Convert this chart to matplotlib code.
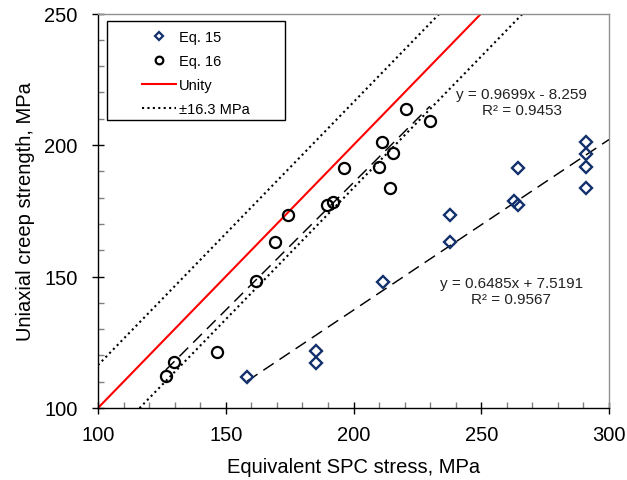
import matplotlib
matplotlib.use("Agg")
import matplotlib.pyplot as plt
from matplotlib.lines import Line2D
from matplotlib.patches import Rectangle
from matplotlib.ticker import MultipleLocator
import numpy as np

plt.rcParams['font.family'] = ['Liberation Sans', 'DejaVu Sans']

# Eq. 15 predictions (diamonds)
eq15_x = [158.4, 185.2, 185.2, 211.7, 237.9, 237.9, 264.3, 262.8, 264.5, 291.0, 291.0, 291.0, 291.0]
eq15_y = [111.9, 121.6, 117.1, 147.8, 173.4, 163.3, 191.4, 178.6, 177.0, 201.1, 196.7, 191.8, 183.7]

# Eq. 16 predictions (circles)
eq16_x = [126.5, 129.9, 146.4, 161.8, 169.4, 174.5, 189.8, 192.1, 196.4, 210.1, 211.2, 215.3, 214.3, 220.5, 229.9]
eq16_y = [112.1, 117.4, 121.4, 148.1, 163.3, 173.4, 177.2, 178.3, 191.4, 191.7, 201.3, 196.9, 183.8, 213.5, 209.1]

# Linear trendlines: (slope, intercept, R^2)
fit15 = (0.6485, 7.5191, 0.9567)
fit16 = (0.9699, -8.259, 0.9453)

scatter_band = 16.3
x_lim = (100, 300)
y_lim = (100, 250)
x_ticks = [100, 150, 200, 250, 300]
y_ticks = [100, 150, 200, 250]

navy = '#12306c'

fig = plt.figure(figsize=(6.27, 4.81), dpi=100)
ax = fig.add_axes([98 / 627, 1 - 409 / 481, 511 / 627, 394.5 / 481])
ax.set_xlim(*x_lim)
ax.set_ylim(*y_lim)

# unity line and +/- band
ux = np.array(x_lim, dtype=float)
ax.plot(ux, ux, color='#ff0000', lw=1.5, zorder=2)
ax.plot(ux, ux + scatter_band, color='black', lw=1.5, dashes=(1, 1.6), zorder=2)
ax.plot(ux, ux - scatter_band, color='black', lw=1.5, dashes=(1, 1.6), zorder=2)

# trendlines
tx16 = np.array([min(eq16_x), max(eq16_x)])
ax.plot(tx16, fit16[0] * tx16 + fit16[1], color='black', lw=1.05, dashes=(8.5, 4.8), zorder=3)
tx15 = np.array([min(eq15_x), x_lim[1]])
ax.plot(tx15, fit15[0] * tx15 + fit15[1], color='black', lw=1.05, dashes=(8.5, 4.8), zorder=3)

# data points
ax.plot(eq15_x, eq15_y, linestyle='none', marker='D', ms=6.0, mfc='none',
        mec=navy, mew=1.7, zorder=4)
ax.plot(eq16_x, eq16_y, linestyle='none', marker='o', ms=8.0, mfc='none',
        mec='black', mew=1.6, zorder=4)

# trendline equations
ax.text(265.8, 216.4, "y = %.4fx - %.3f\nR² = %.4f" % (fit16[0], -fit16[1], fit16[2]),
        ha='center', va='center', fontsize=11, linespacing=1.2, color='#222222', zorder=5)
ax.text(261.8, 144.5, "y = %.4fx + %.4f\nR² = %.4f" % (fit15[0], fit15[1], fit15[2]),
        ha='center', va='center', fontsize=11, linespacing=1.2, color='#222222', zorder=5)

# axes styling
ax.set_xticks(x_ticks)
ax.set_yticks(y_ticks)
ax.xaxis.set_minor_locator(MultipleLocator(10))
ax.yaxis.set_minor_locator(MultipleLocator(10))
ax.tick_params(which='major', direction='inout', length=9, width=1, color='black',
               labelsize=14.5)
ax.tick_params(axis='x', which='major', pad=8)
ax.tick_params(axis='y', which='major', pad=10)
ax.tick_params(which='minor', direction='in', length=4.5, width=1, color='#808080')
ax.spines['left'].set_color('black')
ax.spines['bottom'].set_color('black')
ax.spines['top'].set_color('#909090')
ax.spines['right'].set_color('#909090')
for s in ax.spines.values():
    s.set_linewidth(1.0)

ax.set_xlabel('Equivalent SPC stress, MPa', fontsize=14.5, labelpad=9)
ax.set_ylabel('Uniaxial creep strength, MPa', fontsize=14.5, labelpad=6.5)

# legend
handles = [
    Line2D([], [], linestyle='none', marker='D', ms=4.0, mfc='none', mec=navy, mew=1.6),
    Line2D([], [], linestyle='none', marker='o', ms=5.5, mfc='none', mec='black', mew=1.6),
    Line2D([], [], color='#ff0000', lw=1.5),
    Line2D([], [], color='black', lw=1.5, dashes=(1, 1.6)),
]
labels = ['Eq. 15', 'Eq. 16', 'Unity', '±16.3 MPa']
leg = ax.legend(handles, labels, loc='upper left', bbox_to_anchor=(0.0861, 0.959),
                frameon=False, fontsize=10.5, borderpad=0, borderaxespad=0,
                handlelength=2.33, handletextpad=0.2, labelspacing=0.69)
ax.add_patch(Rectangle((0.0176, 0.730), 0.3484, 0.251, transform=ax.transAxes,
                       fill=True, facecolor='white', edgecolor='black', lw=1.0, zorder=6))
leg.set_zorder(7)

fig.savefig('out.png', dpi=100)
